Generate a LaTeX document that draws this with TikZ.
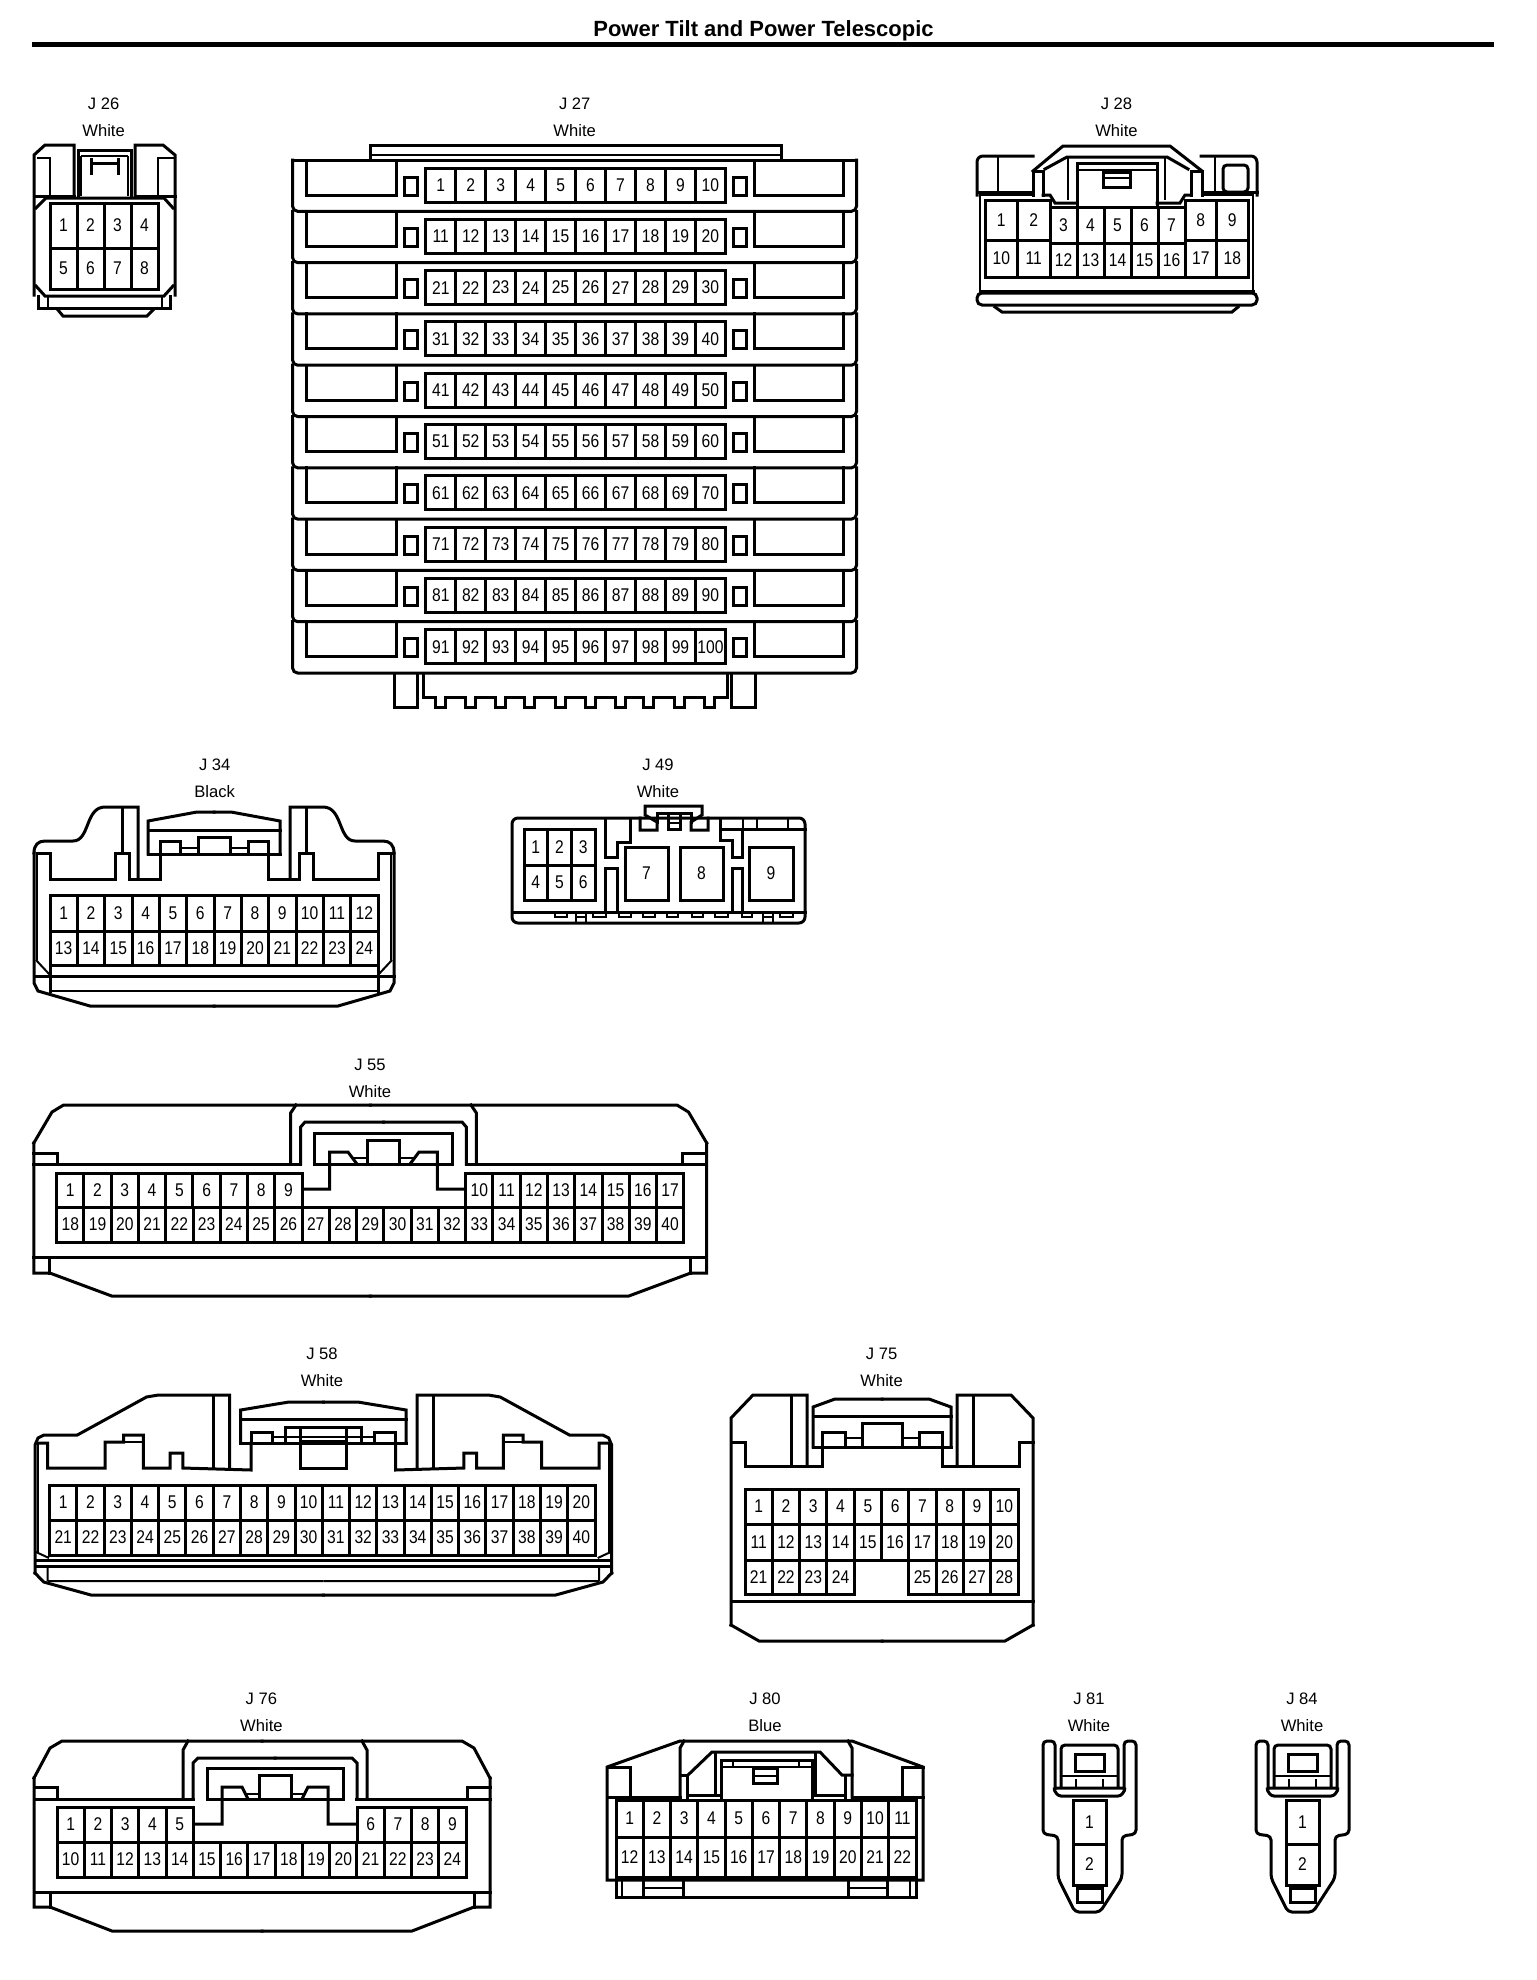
\documentclass[tikz,border=0pt]{standalone}
\usepackage{fontspec}
\setmainfont{Liberation Sans}
\newfontfamily\pinfont[FakeStretch=0.85]{Liberation Sans}
\tikzset{
 ln/.style={line width=1.5pt,line join=miter,line cap=rect},
 tn/.style={line width=1pt,line join=miter,line cap=butt},
 pinlabel/.style={font=\pinfont\fontsize{9.2}{10}\selectfont,inner sep=0pt},
 conlabel/.style={font=\fontsize{8.3}{10}\selectfont,inner sep=0pt},
 titlelabel/.style={font=\bfseries\fontsize{11}{12}\selectfont,inner sep=0pt}
}
\def\cn{c}
\newcommand\pinrow[6]{%
 \foreach \k [evaluate=\k as \n using int(#6+\k-1),
   evaluate=\k as \xa using #1+(\k-1)*(#2-#1)/#5,
   evaluate=\k as \xb using #1+\k*(#2-#1)/#5] in {1,...,#5}{
  \draw[ln] (\xa,#3) rectangle (\xb,#4);
  \node[pinlabel] (\cn-\n) at ({(\xa+\xb)/2},{(#3+#4)/2}) {\n};
 }}
\newcommand\conhead[5]{%
 \node[conlabel] (#1-id) at (#2,#3) {#4};
 \node[conlabel] (#1-col) at (#2,#3+26.5) {#5};}
\newcommand\sym[2]{#2\begin{scope}[shift={(#1,0)},xscale=-1]#2\end{scope}}
\newcommand\plug{%
 \draw[ln,rounded corners=2pt] (1055,1788)--(1055,1741)--(1043,1741)--(1043,1834)--(1058,1836)--(1058,1878)--(1075,1912)--(1100,1912)--(1122,1878)--(1122,1836)--(1136,1834)--(1136,1741)--(1124,1741)--(1124,1788);
 \draw[ln,rounded corners=1.5pt] (1053,1788)--(1058,1796)--(1121,1796)--(1126,1788)--cycle;
 \draw[ln,rounded corners=2pt] (1061,1787)--(1061,1745)--(1118,1745)--(1118,1787);
 \draw[ln] (1075,1754) rectangle (1104,1771);
 \draw[tn] (1061,1776)--(1118,1776) (1076,1779)--(1076,1787) (1103,1779)--(1103,1787);
 \pinrow{1073}{1106}{1800}{1844}{1}{1}
 \pinrow{1073}{1106}{1844}{1885}{1}{2}
 \draw[ln] (1077,1888) rectangle (1102,1902);
}
\begin{document}
\begin{tikzpicture}[x=0.5pt,y=-0.5pt]
\useasboundingbox (0,0) rectangle (1536,1980);
\fill[white] (0,0) rectangle (1536,1980);
\node[titlelabel] (title) at (763.5,30.5) {Power Tilt and Power Telescopic};
\draw[line width=2.5pt] (32,44.5)--(1494,44.5);

% J26
\def\cn{j26}
\conhead{j26}{103.6}{104}{J 26}{White}
\draw[ln] (34,295)--(34,155)--(45,145)--(74,145)--(74,196);
\draw[ln] (135,196)--(135,145)--(163,145)--(175,155)--(175,295);
\draw[tn] (37,158)--(50,158)--(50,196) (175,158)--(158,158)--(158,196);
\draw[ln] (34,196)--(74,196) (135,196)--(175,196);
\draw[ln] (78,196)--(78,150)--(131,150)--(131,196);
\draw[tn] (81,156)--(128,156) (81,156)--(81,196) (128,156)--(128,196);
\draw[ln] (91,159)--(91,173) (118,159)--(118,173) (91,163)--(118,163);
\draw[ln] (36,208)--(46,198)--(164,198)--(173,208);
\draw[ln] (36,286)--(45,296)--(164,296)--(173,286);
\draw[ln] (38,296)--(38,308)--(170,308)--(170,296);
\draw[tn] (48,296)--(48,308) (162,296)--(162,308);
\draw[ln] (58,310)--(63,316)--(147,316)--(153,310);
\pinrow{50}{158}{203}{248}{4}{1}
\pinrow{50}{158}{248}{289}{4}{5}

% J27
\def\cn{j27}
\conhead{j27}{574.7}{104}{J 27}{White}
\draw[ln] (370,160)--(370,145)--(781,145)--(781,160);
\draw[tn] (370,155)--(781,155);
\draw[ln] (292.6,160)--(856.5,160);
\foreach \r in {0,...,9}{
 \pgfmathsetmacro\T{160+51.3*\r}
 \draw[ln,rounded corners=2.5pt] (292.6,\T)--(292.6,\T+51.3)--(856.5,\T+51.3)--(856.5,\T);
 \draw[ln] (306,\T)--(306,\T+35)--(396.4,\T+35)--(396.4,\T);
 \draw[ln] (754,\T)--(754,\T+35)--(843.7,\T+35)--(843.7,\T);
 \draw[ln] (404.8,\T+17) rectangle (417.4,\T+35);
 \draw[ln] (733.5,\T+17) rectangle (746,\T+35);
 \pgfmathtruncatemacro\F{10*\r+1}
 \pinrow{425.8}{725.4}{\T+8}{\T+42}{10}{\F}
}
\draw[ln] (394.5,673)--(394.5,707)--(417.4,707)--(417.4,673);
\draw[ln] (731.5,673)--(731.5,707)--(755,707)--(755,673);
\draw[ln] (423,673)--(423,697)--(435,697)--(435,707)--(445,707)--(445,697)
 --(465,697)--(465,707)--(475,707)--(475,697)
 --(495,697)--(495,707)--(505,707)--(505,697)
 --(524,697)--(524,707)--(534,707)--(534,697)
 --(555,697)--(555,707)--(565,707)--(565,697)
 --(585,697)--(585,707)--(595,707)--(595,697)
 --(615,697)--(615,707)--(625,707)--(625,697)
 --(643,697)--(643,707)--(653,707)--(653,697)
 --(674,697)--(674,707)--(684,707)--(684,697)
 --(704,697)--(704,707)--(714,707)--(714,697)
 --(727,697)--(727,673);

% J28
\def\cn{j28}
\conhead{j28}{1116.5}{104}{J 28}{White}
\draw[ln,rounded corners=3pt] (1033,156)--(977,156)--(977,195);
\draw[ln,rounded corners=3pt] (1201,156)--(1257,156)--(1257,195);
\draw[ln] (1033,171)--(1063,146)--(1170,146)--(1202,171);
\draw[ln] (1045,169)--(1067,157)--(1167,157)--(1188,169);
\draw[ln] (1033,171)--(1033,195) (1043,171)--(1043,195) (1191,171)--(1191,195) (1202,171)--(1202,195) (1033,171)--(1043,171) (1191,171)--(1202,171);
\draw[tn] (998,156)--(998,192) (1215,156)--(1215,192) (1068,157)--(1068,200) (1165,157)--(1165,200);
\draw[ln,rounded corners=2pt] (1223,165) rectangle (1248,192);
\draw[ln] (977,192)--(1033,192) (1202,192)--(1257,192);
\draw[ln] (1077,207)--(1077,163)--(1157,163)--(1157,207);
\draw[tn] (1077,170)--(1157,170);
\draw[ln] (1103,172) rectangle (1130,187);
\draw[tn] (1103,178)--(1130,178);
\draw[ln] (1043,195)--(1050,195)--(1055,203)--(1077,203) (1191,195)--(1185,195)--(1180,203)--(1157,203);
\draw[tn] (980,291)--(980,195)--(1033,195) (1202,195)--(1253,195)--(1253,291);
\draw[ln] (980,291)--(1253,291);
\draw[ln,rounded corners=2.5pt] (977,293)--(977,305)--(1257,305)--(1257,293)--cycle;
\draw[ln] (995,307)--(1002,312)--(1232,312)--(1238,307);
\pinrow{985}{1050}{200}{240}{2}{1}
\pinrow{985}{1050}{240}{277}{2}{10}
\pinrow{1050}{1185}{207}{243}{5}{3}
\pinrow{1050}{1185}{243}{277}{5}{12}
\pinrow{1185}{1248}{200}{240}{2}{8}
\pinrow{1185}{1248}{240}{277}{2}{17}

% J34
\def\cn{j34}
\conhead{j34}{214.7}{765}{J 34}{Black}
\sym{428}{
 \draw[ln] (34,853)..controls (34,845) and (38,841)..(45,841)--(73,841)..controls (90,841) and (85,807)..(105,807)--(138,807)--(138,879);
 \draw[ln] (34,853)--(34,983)--(38,991)--(90,1006)--(214,1006);
 \draw[ln] (122,807)--(122,853);
 \draw[tn] (37,853)--(37,960);
 \draw[ln] (37,853)--(50,853)--(50,879)--(115,879)--(115,853)--(129,853)--(129,879)--(160,879)--(160,854);
 \draw[ln] (148,854)--(148,821)--(197,812)--(214,812);
 \draw[ln] (148,854)--(214,854) (148,830)--(214,830);
 \draw[ln] (160,854)--(160,841)--(180,841)--(180,854);
 \draw[ln] (198,854)--(198,837)--(214,837);
 \draw[tn] (180,848)--(198,848);
 \draw[ln] (34,976)--(214,976);
 \draw[tn] (50,991)--(214,991);
 \draw[ln] (50,965)--(50,991);
 \draw[tn] (36,960)--(50,975);
}
\pinrow{50}{378}{895}{931}{12}{1}
\pinrow{50}{378}{931}{965}{12}{13}

% J49
\def\cn{j49}
\conhead{j49}{658}{765}{J 49}{White}
\draw[ln,rounded corners=3pt] (512,818) rectangle (805,923);
\draw[ln] (512,912)--(805,912);
\pinrow{524}{595}{829}{865}{3}{1}
\pinrow{524}{595}{865}{900}{3}{4}
\pinrow{625}{668}{847}{900}{1}{7}
\pinrow{680}{723}{847}{900}{1}{8}
\pinrow{749}{793}{847}{900}{1}{9}
\draw[ln] (640,818)--(640,830)--(657,830)--(657,822)--(645,815)--(645,806)--(702,806)--(702,815)--(691,822)--(691,830)--(708,830)--(708,818);
\draw[ln] (657,822)--(657,813)--(691,813)--(691,822);
\draw[ln] (668,813)--(668,829)--(680,829)--(680,813);
\draw[tn] (668,823)--(680,823);
\draw[ln] (605,818)--(605,857)--(617,857)--(617,842)--(630,842)--(630,818);
\draw[ln] (605,912)--(605,868)--(617,868)--(617,912);
\draw[ln] (720,818)--(720,840)--(732,840)--(732,857)--(742,857)--(742,829)--(805,829);
\draw[ln] (720,829)--(742,829);
\draw[tn] (743,818)--(743,829) (757,818)--(757,829) (788,818)--(788,829);
\draw[ln] (732,912)--(732,868)--(742,868)--(742,912);
\foreach \a/\b in {555/567,593/606,619/631,643/655,667/678,692/703,715/728,742/752,780/793}{
 \draw[tn] (\a,912)--(\a,917)--(\b,917)--(\b,912);}
\foreach \a/\b in {576/586,763/773}{
 \draw[tn] (\a,912) rectangle (\b,923) (\a,917)--(\b,917);}

% J55
\def\cn{j55}
\conhead{j55}{370}{1065}{J 55}{White}
\sym{740.5}{
 \draw[ln] (33.8,1143)--(52,1112)--(63.6,1105)--(370.25,1105);
 \draw[ln] (33.8,1143)--(33.8,1273)--(49.8,1273)--(111.7,1296)--(370.25,1296);
 \draw[ln] (33.8,1153)--(57.6,1153)--(57.6,1164);
 \draw[ln] (33.8,1257)--(370.25,1257);
 \draw[ln] (49.8,1257)--(49.8,1273);
}
\draw[ln] (33.8,1164)--(300.7,1164) (466.3,1164)--(706.7,1164);
\sym{767}{
 \draw[ln] (290.6,1164)--(290.6,1113)--(296,1105);
 \draw[ln] (300.7,1164)--(300.7,1127)--(305,1122)--(383.5,1122);
 \draw[ln] (314.5,1164)--(314.5,1133)--(383.5,1133) (314.5,1164)--(383.5,1164);
 \draw[ln] (303,1189)--(329.6,1189)--(329.6,1152)--(348,1152)--(357,1164);
 \draw[ln] (367.7,1164)--(367.7,1140)--(383.5,1140);
 \draw[tn] (352.6,1158)--(367.7,1158);
}
\pinrow{56.7}{302}{1173}{1207}{9}{1}
\pinrow{465.7}{683.8}{1173}{1207}{8}{10}
\pinrow{56.7}{683.8}{1207}{1242}{23}{18}

% J58
\def\cn{j58}
\conhead{j58}{322}{1354}{J 58}{White}
\sym{646.7}{
 \draw[ln] (35,1573)--(43.7,1582)--(91,1595)--(323.35,1595);
 \draw[ln] (35,1573)--(35,1445)--(38,1438)--(44,1435)--(77.3,1435)--(146.5,1397)--(158.3,1395)--(229.5,1395)--(229.5,1468);
 \draw[ln] (213.7,1395)--(213.7,1468);
 \draw[tn] (38,1442)--(38,1552);
 \draw[ln] (38,1443)--(47.7,1443)--(47.7,1468)--(105,1468)--(105,1442)--(123.6,1442)--(123.6,1435)--(143.3,1435)--(143.3,1468)--(170.2,1468)--(170.2,1453)--(182.8,1453)--(182.8,1468)--(251.2,1470)--(251.2,1443);
 \draw[tn] (123.6,1442)--(143.3,1442);
 \draw[ln] (240.6,1443)--(240.6,1410)--(288.8,1402)--(323.35,1402);
 \draw[ln] (240.6,1443)--(323.35,1443) (240.6,1419)--(323.35,1419);
 \draw[ln] (251.2,1443)--(251.2,1432)--(272,1432)--(272,1443);
 \draw[ln] (285.6,1443)--(285.6,1427)--(323.35,1427);
 \draw[tn] (272,1437)--(323.35,1437) (300,1441)--(323.35,1441);
 \draw[ln] (300.6,1429)--(300.6,1468)--(323.35,1468);
 \draw[ln] (36,1560)--(323.35,1560) (36,1566)--(323.35,1566);
 \draw[tn] (47.7,1581)--(323.35,1581) (47.7,1566)--(47.7,1581) (36,1552)--(49,1558);
}
\pinrow{49.6}{595}{1485}{1520}{20}{1}
\pinrow{49.6}{595}{1520}{1555}{20}{21}

% J75
\def\cn{j75}
\conhead{j75}{881.6}{1354}{J 75}{White}
\sym{1764}{
 \draw[ln] (731,1625)--(731,1418)--(753,1395)--(807,1395)--(807,1466);
 \draw[ln] (731,1625)--(759,1641)--(882,1641);
 \draw[ln] (791,1395)--(791,1466);
 \draw[ln] (731,1442)--(745,1442)--(745,1466)--(822,1466)--(822,1447);
 \draw[ln] (813,1447)--(813,1407)--(835,1399)--(882,1399);
 \draw[ln] (813,1447)--(882,1447) (813,1416)--(882,1416);
 \draw[ln] (822,1447)--(822,1432)--(845,1432)--(845,1447);
 \draw[ln] (862,1447)--(862,1423)--(882,1423);
 \draw[tn] (845,1438)--(862,1438);
 \draw[ln] (731,1601)--(882,1601);
}
\pinrow{745}{1018}{1489}{1524}{10}{1}
\pinrow{745}{1018}{1524}{1560}{10}{11}
\pinrow{745}{854.2}{1560}{1594}{4}{21}
\pinrow{908.8}{1018}{1560}{1594}{4}{25}

% J76
\def\cn{j76}
\conhead{j76}{261.4}{1699}{J 76}{White}
\sym{524}{
 \draw[ln] (34,1778)--(50,1748)--(62,1741)--(262,1741);
 \draw[ln] (34,1778)--(34,1907)--(50,1907)--(112,1931)--(262,1931);
 \draw[ln] (34,1787)--(57,1787)--(57,1799);
 \draw[ln] (34,1892)--(262,1892);
 \draw[ln] (50,1892)--(50,1907);
}
\draw[ln] (34,1799)--(193,1799) (356,1799)--(490,1799);
\sym{550}{
 \draw[ln] (183,1799)--(183,1750)--(188,1741);
 \draw[ln] (193,1799)--(193,1763)--(198,1758)--(275,1758);
 \draw[ln] (207,1799)--(207,1768)--(275,1768) (207,1799)--(275,1799);
 \draw[ln] (195,1824)--(222,1824)--(222,1787)--(242,1787)--(248,1799);
 \draw[ln] (259,1799)--(259,1775)--(275,1775);
 \draw[tn] (247,1794)--(259,1794);
}
\pinrow{57}{193.3}{1807}{1842}{5}{1}
\pinrow{357}{466}{1807}{1842}{4}{6}
\pinrow{57}{466}{1842}{1877}{15}{10}

% J80
\def\cn{j80}
\conhead{j80}{765}{1699}{J 80}{Blue}
\draw[ln] (607,1880)--(607,1767)--(680,1741)--(852,1741)--(923,1767)--(923,1880)--cycle;
\draw[ln] (607,1797)--(680,1797) (852,1797)--(923,1797);
\draw[ln] (607,1767)--(630,1767)--(630,1797) (923,1767)--(902,1767)--(902,1797);
\draw[ln] (680,1797)--(680,1748)--(684,1741) (852,1797)--(852,1748)--(848,1741);
\draw[ln] (687,1800)--(687,1775)--(680,1775);
\draw[ln] (688,1775)--(712,1752)--(820,1752)--(842,1775)--(852,1775);
\draw[ln] (845,1775)--(845,1800);
\draw[ln] (715,1752)--(715,1795) (815,1752)--(815,1795);
\draw[ln] (721,1800)--(721,1760)--(812,1760)--(812,1800);
\draw[tn] (721,1767)--(812,1767) (733,1760)--(733,1767) (799,1760)--(799,1767);
\draw[ln] (753,1768) rectangle (777,1783);
\draw[tn] (753,1776)--(777,1776);
\draw[ln] (689,1795)--(721,1795) (812,1795)--(845,1795);
\draw[ln] (616,1880)--(616,1897)--(916,1897)--(916,1880);
\draw[tn] (622,1880)--(622,1897) (910,1880)--(910,1897) (645,1888)--(683,1888) (848,1888)--(887,1888);
\draw[ln] (643,1880)--(643,1897) (683,1880)--(683,1897) (848,1880)--(848,1897) (887,1880)--(887,1897);
\pinrow{616}{916}{1800}{1837}{11}{1}
\pinrow{616}{916}{1837}{1877}{11}{12}

% J81, J84
\def\cn{j81}
\conhead{j81}{1089}{1699}{J 81}{White}
\plug
\def\cn{j84}
\conhead{j84}{1302}{1699}{J 84}{White}
\begin{scope}[shift={(213,0)}]
\plug
\end{scope}
\end{tikzpicture}
\end{document}
